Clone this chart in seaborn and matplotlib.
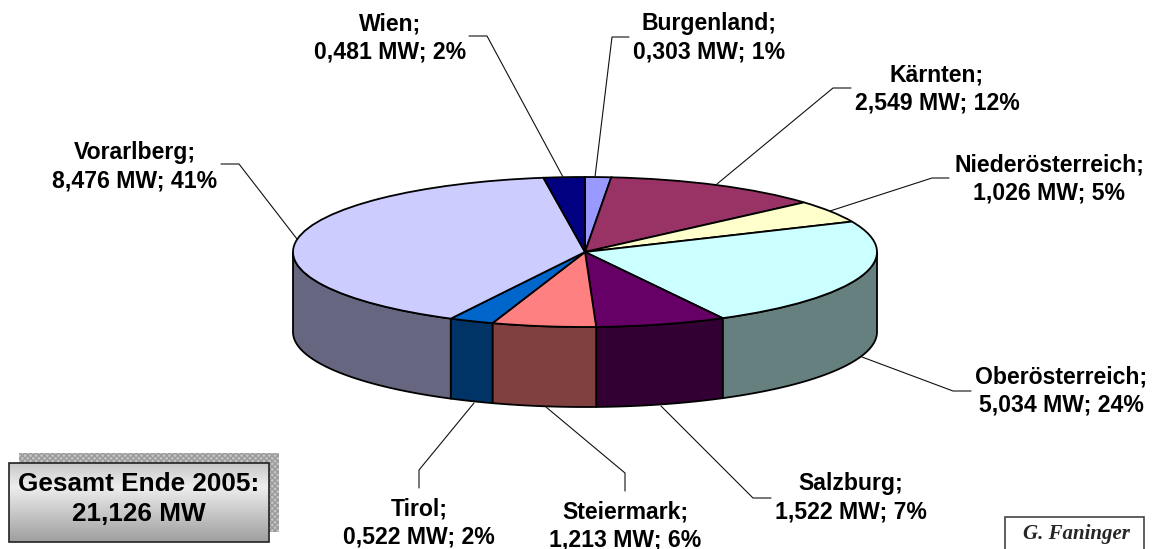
import numpy as np
import seaborn as sns
import matplotlib.pyplot as plt

sns.set_theme(style="white")
plt.rcParams['font.family'] = ['Liberation Sans', 'DejaVu Sans']

names = ["Burgenland", "Kärnten", "Niederösterreich", "Oberösterreich", "Salzburg",
         "Steiermark", "Tirol", "Vorarlberg", "Wien"]
mw = [0.303, 2.549, 1.026, 5.034, 1.522, 1.213, 0.522, 8.476, 0.481]
mw_text = ["0,303", "2,549", "1,026", "5,034", "1,522", "1,213", "0,522", "8,476", "0,481"]
pct = [1, 12, 5, 24, 7, 6, 2, 41, 2]
colors = ["#9999FF", "#993366", "#FFFFCC", "#CCFFFF", "#660066",
          "#FF8080", "#0066CC", "#CCCCFF", "#000080"]
side_colors = ["#4C4C80", "#4C1A33", "#808066", "#668080", "#330033",
               "#804040", "#003366", "#666680", "#000040"]

W, H = 1155, 549
cx, cy, rx, ry, depth = 585, 252, 292, 75, 80

# label centre, then leader line: slice edge -> elbow -> end
label_pos = [(709, 38), (937, 89), (1049, 179), (1061, 391), (851, 498),
             (625, 526), (419, 523), (135, 167), (390, 38)]
leaders = [[(595, 177), (612, 37), (629, 37)],
           [(717, 184), (833, 88), (851, 88)],
           [(830, 211), (932, 178), (949, 178)],
           [(862, 357), (953, 391), (971, 391)],
           [(661, 406), (753, 498), (771, 498)],
           [(546, 407), (625, 473), (625, 491)],
           [(474, 403), (419, 470), (419, 488)],
           [(297, 239), (239, 164), (221, 164)],
           [(563, 177), (487, 36), (469, 36)]]

fig = plt.figure(figsize=(W / 100, H / 100), dpi=100, facecolor="white")

# pie axes: one unit is rx px across and ry px down, which flattens the pie
ax = fig.add_axes([0, 0, 1, 1])
ax.pie(mw, colors=colors, startangle=90, counterclock=False, radius=1,
       wedgeprops=dict(edgecolor="black", linewidth=1.3, zorder=3))
ax.set_aspect("auto")
ax.set_xlim(-cx / rx, (W - cx) / rx)
ax.set_ylim((cy - H) / ry, cy / ry)

# side wall, only the front half of the ring shows
edges = np.concatenate([[0], np.cumsum(mw)]) / np.sum(mw) * 2 * np.pi
drop = depth / ry
for i in range(len(mw)):
    a = max(edges[i], np.pi / 2)
    b = min(edges[i + 1], 3 * np.pi / 2)
    if b <= a:
        continue
    t = np.linspace(a, b, 60)
    xs = np.sin(t)
    ys = np.cos(t)
    ax.fill(np.r_[xs, xs[::-1]], np.r_[ys, ys[::-1] - drop],
            facecolor=side_colors[i], edgecolor="black", linewidth=1.3, zorder=2)

# overlay axes in picture pixels for labels and boxes
ov = fig.add_axes([0, 0, 1, 1], facecolor="none")
ov.axis("off")

for i, name in enumerate(names):
    lx, ly = zip(*leaders[i])
    ov.plot(lx, ly, color="#111111", lw=0.8)
    ov.text(label_pos[i][0], label_pos[i][1],
            f"{name};\n{mw_text[i]} MW; {pct[i]}%",
            ha="center", va="center", fontsize=16.6, fontweight="bold",
            linespacing=1.3, color="black")

# total box with textured shadow and grey gradient
ov.add_patch(plt.Rectangle((19, 453), 260, 79, facecolor="#c4c4c4", edgecolor="#9a9a9a",
                           hatch="xxxxxx", linewidth=0, zorder=1))
grad = np.interp(np.linspace(0, 1, 80), [0, 0.3, 1], [0.78, 0.93, 0.62]).reshape(-1, 1)
ov.imshow(grad, cmap="gray", vmin=0, vmax=1, extent=(9, 269, 542, 463),
          aspect="auto", zorder=2)
ov.add_patch(plt.Rectangle((9, 463), 260, 79, facecolor="none", edgecolor="#222222",
                           linewidth=1.2, zorder=3))
ov.text(139, 499, "Gesamt Ende 2005:\n21,126 MW", ha="center", va="center",
        fontsize=18.8, fontweight="bold", linespacing=1.32, color="black", zorder=4)

# signature box runs off the bottom edge
ov.add_patch(plt.Rectangle((1005, 517), 139, 50, facecolor="white", edgecolor="#444444",
                           linewidth=1.2, zorder=3))
ov.text(1076, 534, "G. Faninger", ha="center", va="center", fontsize=15,
        family="Liberation Serif", style="italic", fontweight="bold", zorder=4)

ov.set_xlim(0, W)
ov.set_ylim(H, 0)

fig.savefig("out.png", dpi=100)
